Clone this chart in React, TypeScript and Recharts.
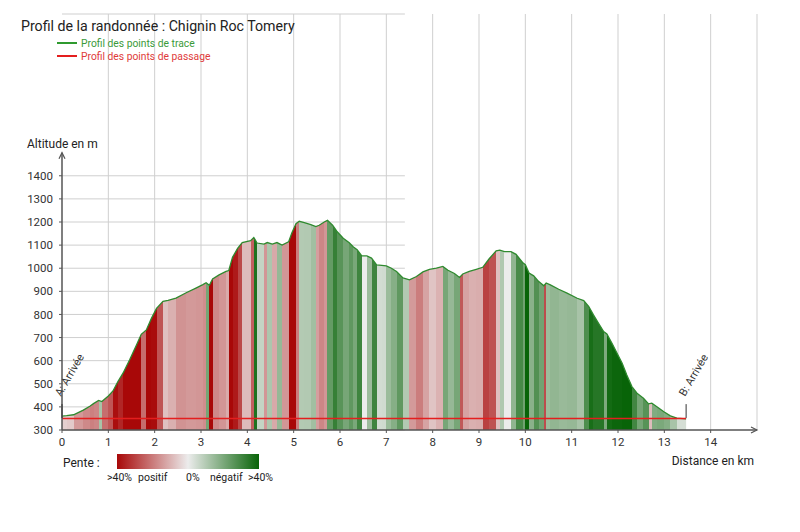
import React from 'react';
import { ComposedChart, Area, Line, XAxis, YAxis, CartesianGrid, ReferenceLine } from 'recharts';

const TITLE = 'Profil de la randonnée : Chignin Roc Tomery';
const SERIES_TRACE = 'Profil des points de trace';
const SERIES_PASSAGE = 'Profil des points de passage';
const Y_LABEL = 'Altitude en m';
const X_LABEL = 'Distance en km';

const DIST_KM = [
  0.0, 0.1, 0.25, 0.46, 0.6, 0.68, 0.79, 0.86, 1.0, 1.1, 1.21, 1.32, 1.46, 1.61, 1.71, 1.82, 1.93, 2.04,
  2.18, 2.29, 2.46, 2.68, 2.89, 3.04, 3.11, 3.18, 3.25, 3.39, 3.54, 3.6, 3.68, 3.79, 3.89, 4.07, 4.14,
  4.21, 4.36, 4.43, 4.54, 4.64, 4.75, 4.89, 4.96, 5.05, 5.12, 5.23, 5.37, 5.48, 5.55, 5.66, 5.73, 5.84,
  5.93, 6.07, 6.2, 6.29, 6.37, 6.47, 6.58, 6.68, 6.79, 6.9, 7.0, 7.11, 7.22, 7.36, 7.5, 7.65, 7.79,
  7.93, 8.08, 8.22, 8.33, 8.47, 8.58, 8.65, 8.79, 8.94, 9.08, 9.22, 9.37, 9.45, 9.55, 9.69, 9.8, 9.94,
  10.0, 10.08, 10.18, 10.29, 10.4, 10.45, 10.54, 10.72, 10.9, 11.12, 11.26, 11.37, 11.47, 11.58, 11.69,
  11.76, 11.87, 11.98, 12.09, 12.19, 12.3, 12.41, 12.55, 12.66, 12.73, 12.84, 12.99, 13.13, 13.27, 13.47,
];
const ALT_M = [
  360, 362, 366, 386, 403, 414, 428, 423, 447, 469, 511, 547, 604, 669, 714, 733, 783, 826,
  857, 861, 871, 894, 914, 929, 937, 926, 954, 971, 986, 990, 1047, 1086, 1111, 1119, 1133,
  1109, 1104, 1111, 1104, 1111, 1100, 1114, 1152, 1193, 1203, 1197, 1189, 1180, 1186, 1200, 1207, 1186,
  1160, 1130, 1110, 1092, 1080, 1053, 1053, 1044, 1014, 1012, 1010, 1000, 986, 958, 950, 964, 984,
  995, 1000, 1008, 991, 977, 960, 975, 986, 995, 1004, 1041, 1075, 1078, 1072, 1072, 1060, 1025,
  1015, 979, 967, 942, 924, 936, 928, 909, 892, 870, 860, 834, 798, 762, 726,
  716, 675, 632, 589, 538, 488, 459, 437, 413, 416, 401, 379, 361, 351, 348,
];
const PASSAGE_KM = [0, 13.47];
const PASSAGE_ALT = [350, 350];

const X_TICKS = [0, 1, 2, 3, 4, 5, 6, 7, 8, 9, 10, 11, 12, 13, 14];
const Y_TICKS = [300, 400, 500, 600, 700, 800, 900, 1000, 1100, 1200, 1300, 1400];
const X_DOMAIN = [0, 15];
const Y_DOMAIN = [300, 2100];
const Y_AXIS_TOP = 1500;
const GRID_H_END_KM = 7.4;
const MARKER_KM = [0, 13.47];
const MARKER_LABELS = ['A: Arrivée', 'B: Arrivée'];
const MARKER_ALT = [352, 412];
const SLOPE_MAX = 40;
const SLOPE_LABELS = ['>40%', 'positif', '0%', 'négatif', '>40%'];

const MARGIN = { top: 14, right: 43, bottom: 72, left: 12 };
const Y_AXIS_WIDTH = 50;
const PLOT_LEFT = MARGIN.left + Y_AXIS_WIDTH;

const FONT = 'Roboto, "Noto Sans", sans-serif';
const AXIS_COLOR = '#555';
const GRID_COLOR = '#cfcfcf';
const NEUTRAL = [236, 236, 236];
const UP = [168, 8, 8];
const DOWN = [8, 100, 8];

function mix(a: number[], b: number[], t: number) {
  const c = a.map((v, i) => Math.round(v + (b[i] - v) * t));
  return `rgb(${c[0]},${c[1]},${c[2]})`;
}
function slopeColor(pct: number) {
  const t = Math.pow(Math.min(Math.abs(pct) / SLOPE_MAX, 1), 0.7);
  return mix(NEUTRAL, pct >= 0 ? UP : DOWN, t);
}

const data = DIST_KM.map((d, i) => {
  const pi = PASSAGE_KM.indexOf(d);
  return { d, alt: ALT_M[i], pass: pi >= 0 ? PASSAGE_ALT[pi] : null };
});

const span = DIST_KM[DIST_KM.length - 1] - DIST_KM[0];
const stops: { offset: number; color: string }[] = [];
for (let i = 0; i < DIST_KM.length - 1; i++) {
  const dd = DIST_KM[i + 1] - DIST_KM[i];
  const pct = ((ALT_M[i + 1] - ALT_M[i]) / (dd * 1000)) * 100;
  const col = slopeColor(pct);
  stops.push({ offset: (DIST_KM[i] - DIST_KM[0]) / span, color: col });
  stops.push({ offset: (DIST_KM[i + 1] - DIST_KM[0]) / span, color: col });
}

const gridFrac = (GRID_H_END_KM - X_DOMAIN[0]) / (X_DOMAIN[1] - X_DOMAIN[0]);

const AxisArrow = (p: any) => (
  <line x1={p.x1} y1={p.y1} x2={p.x2} y2={p.y2} stroke={AXIS_COLOR} strokeWidth={1.5} markerEnd="url(#arrowHead)" />
);

const makeMarker = (label: string) => (p: any) => {
  const top = Math.min(p.y1, p.y2);
  const tx = p.x1 - 1;
  const ty = top - 7;
  return (
    <g>
      <line x1={p.x1} y1={p.y1} x2={p.x2} y2={p.y2} stroke="#333" strokeWidth={1} />
      <text x={tx} y={ty} transform={`rotate(-60 ${tx} ${ty})`} fontSize={11} fill="#333" fontFamily={FONT}>
        {label}
      </text>
    </g>
  );
};

export default function App() {
  return (
    <div style={{ position: 'absolute', left: 0, top: 0, width: 800, height: 532, background: '#fff' }}>
      <ComposedChart width={800} height={532} data={data} margin={MARGIN}>
        <defs>
          <linearGradient id="slopeFill" x1="0" y1="0" x2="1" y2="0">
            {stops.map((s, i) => (
              <stop key={i} offset={s.offset} stopColor={s.color} />
            ))}
          </linearGradient>
          <marker id="arrowHead" markerWidth="10" markerHeight="10" refX="7" refY="4" orient="auto" markerUnits="userSpaceOnUse">
            <path d="M1,1 L7,4 L1,7" fill="none" stroke={AXIS_COLOR} strokeWidth={1.2} />
          </marker>
        </defs>
        <CartesianGrid
          stroke={GRID_COLOR}
          vertical={(p: any) =>
            p.x1 < PLOT_LEFT + 1 ? (
              <g key={p.key} />
            ) : (
              <line key={p.key} x1={p.x1} y1={p.y1} x2={p.x2} y2={p.y2} stroke={GRID_COLOR} strokeWidth={1} />
            )
          }
          horizontal={(p: any) => (
            <line
              key={p.key}
              x1={p.x1}
              y1={p.y1}
              x2={p.x1 + (p.x2 - p.x1) * gridFrac}
              y2={p.y2}
              stroke={GRID_COLOR}
              strokeWidth={1}
            />
          )}
        />
        <XAxis
          dataKey="d"
          type="number"
          domain={X_DOMAIN}
          ticks={X_TICKS}
          interval={0}
          allowDataOverflow
          axisLine={false}
          tickLine={{ stroke: AXIS_COLOR }}
          tickSize={3}
          tickMargin={5}
          height={30}
          tick={{ fontSize: 11.5, fill: '#333', fontFamily: FONT }}
        />
        <YAxis
          type="number"
          domain={Y_DOMAIN}
          ticks={Y_TICKS}
          interval={0}
          allowDataOverflow
          axisLine={false}
          tickLine={{ stroke: AXIS_COLOR }}
          tickSize={3}
          tickMargin={6}
          width={Y_AXIS_WIDTH}
          tick={{ fontSize: 11.5, fill: '#333', fontFamily: FONT }}
        />
        <Area
          type="linear"
          dataKey="alt"
          name={SERIES_TRACE}
          stroke="#2f8a2f"
          strokeWidth={1.3}
          fill="url(#slopeFill)"
          fillOpacity={1}
          dot={false}
          activeDot={false}
          isAnimationActive={false}
        />
        <Line
          type="linear"
          dataKey="pass"
          name={SERIES_PASSAGE}
          stroke="#e41e1e"
          strokeWidth={1.6}
          dot={false}
          activeDot={false}
          connectNulls
          isAnimationActive={false}
        />
        <ReferenceLine
          segment={[{ x: X_DOMAIN[0], y: Y_DOMAIN[0] }, { x: X_DOMAIN[1], y: Y_DOMAIN[0] }]}
          shape={AxisArrow}
        />
        <ReferenceLine
          segment={[{ x: X_DOMAIN[0], y: Y_DOMAIN[0] }, { x: X_DOMAIN[0], y: Y_AXIS_TOP }]}
          shape={AxisArrow}
        />
        {MARKER_KM.map((km, i) => (
          <ReferenceLine
            key={i}
            segment={[{ x: km, y: MARKER_ALT[0] }, { x: km, y: MARKER_ALT[1] }]}
            shape={makeMarker(MARKER_LABELS[i])}
          />
        ))}
      </ComposedChart>
      <svg
        width={800}
        height={532}
        style={{ position: 'absolute', left: 0, top: 0, pointerEvents: 'none' }}
        fontFamily={FONT}
      >
        <defs>
          <linearGradient id="slopeLegend" x1="0" y1="0" x2="1" y2="0">
            <stop offset="0" stopColor={mix(NEUTRAL, UP, 1)} />
            <stop offset="0.5" stopColor={mix(NEUTRAL, UP, 0)} />
            <stop offset="1" stopColor={mix(NEUTRAL, DOWN, 1)} />
          </linearGradient>
        </defs>
        <text x={21} y={31} fontSize={14.2} fill="#222">{TITLE}</text>
        <line x1={57} y1={43} x2={77} y2={43} stroke="#2f9a2f" strokeWidth={2} />
        <text x={81} y={46.5} fontSize={10.3} fill="#3a9a3a">{SERIES_TRACE}</text>
        <line x1={57} y1={56} x2={77} y2={56} stroke="#e41e1e" strokeWidth={2} />
        <text x={81} y={59.5} fontSize={10.3} fill="#e03a3a">{SERIES_PASSAGE}</text>
        <text x={27} y={147.5} fontSize={12} fill="#222">{Y_LABEL}</text>
        <text x={754} y={465} fontSize={12} fill="#222" textAnchor="end">{X_LABEL}</text>
        <text x={63} y={467} fontSize={12} fill="#222">Pente :</text>
        <rect x={117} y={454} width={142} height={15} fill="url(#slopeLegend)" />
        <text x={107} y={481} fontSize={10.5} fill="#222">{SLOPE_LABELS[0]}</text>
        <text x={138} y={481} fontSize={10.5} fill="#222">{SLOPE_LABELS[1]}</text>
        <text x={186} y={481} fontSize={10.5} fill="#222">{SLOPE_LABELS[2]}</text>
        <text x={210} y={481} fontSize={10.5} fill="#222">{SLOPE_LABELS[3]}</text>
        <text x={248} y={481} fontSize={10.5} fill="#222">{SLOPE_LABELS[4]}</text>
      </svg>
    </div>
  );
}
